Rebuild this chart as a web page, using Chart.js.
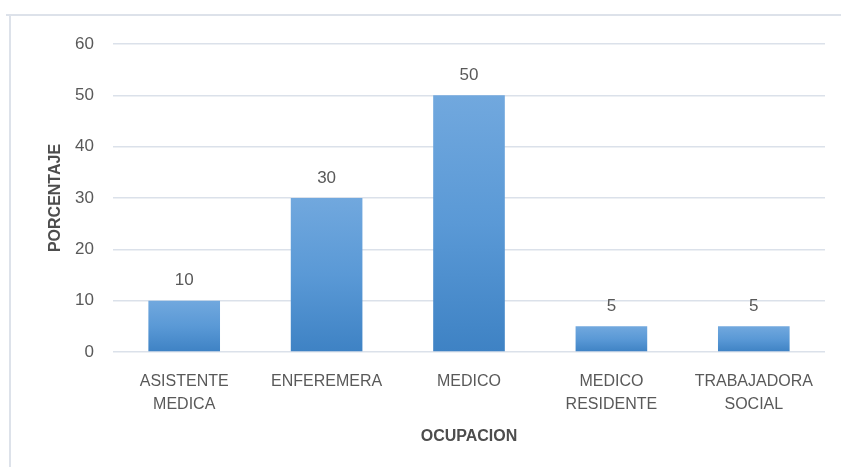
<!DOCTYPE html>
<html>
<head>
<meta charset="utf-8">
<script src="https://cdn.jsdelivr.net/npm/chart.js@4/dist/chart.umd.min.js"></script>
<style>
  html, body { margin: 0; padding: 0; background: #ffffff; }
  #wrap { width: 841px; height: 467px; position: relative; }
</style>
</head>
<body>
<div id="wrap"><canvas id="c"></canvas></div>
<script>
const categories = [['ASISTENTE', 'MEDICA'], 'ENFEREMERA', 'MEDICO', ['MEDICO', 'RESIDENTE'], ['TRABAJADORA', 'SOCIAL']];
const percentages = [10, 30, 50, 5, 5];
const yTicks = [0, 10, 20, 30, 40, 50, 60];
const xTitle = 'OCUPACION';
const yTitle = 'PORCENTAJE';

const FONT = "'Liberation Sans', Arial, sans-serif";
const TEXT = '#595959';

const framePlugin = {
  id: 'frame',
  beforeDraw(chart) {
    const c = chart.ctx;
    c.save();
    c.strokeStyle = '#dde2ea';
    c.lineWidth = 2;
    c.beginPath();
    c.moveTo(6, 15);
    c.lineTo(chart.width, 15);
    c.moveTo(10, 15);
    c.lineTo(10, chart.height);
    c.stroke();
    c.restore();
  }
};

const valueLabels = {
  id: 'valueLabels',
  afterDatasetsDraw(chart) {
    const c = chart.ctx;
    const meta = chart.getDatasetMeta(0);
    c.save();
    c.font = '17px ' + FONT;
    c.fillStyle = TEXT;
    c.textAlign = 'center';
    c.textBaseline = 'middle';
    meta.data.forEach((el, i) => {
      c.fillText(String(percentages[i]), el.x, el.y - 20);
    });
    c.restore();
  }
};

function barGradient(ctx) {
  const chart = ctx.chart;
  if (!chart.chartArea || !chart.scales.y) return '#5b9bd5';
  const y = chart.scales.y;
  const top = y.getPixelForValue(ctx.raw);
  const base = y.getPixelForValue(0);
  const g = chart.ctx.createLinearGradient(0, top, 0, base);
  g.addColorStop(0, '#71a8de');
  g.addColorStop(0.5, '#5a99d6');
  g.addColorStop(1, '#3e82c4');
  return g;
}

new Chart(document.getElementById('c'), {
  type: 'bar',
  data: {
    labels: categories,
    datasets: [{
      data: percentages,
      backgroundColor: barGradient,
      borderWidth: 0,
      barPercentage: 0.503,
      categoryPercentage: 1.0
    }]
  },
  options: {
    responsive: true,
    maintainAspectRatio: false,
    animation: false,
    devicePixelRatio: 1,
    layout: { padding: { top: 44, right: 16, bottom: 0, left: 0 } },
    plugins: {
      legend: { display: false },
      tooltip: { enabled: false }
    },
    scales: {
      x: {
        grid: { display: false },
        border: { display: false },
        ticks: {
          color: TEXT,
          font: { family: FONT, size: 16, lineHeight: 1.45 },
          padding: 10,
          maxRotation: 0,
          autoSkip: false
        },
        title: {
          display: true,
          text: xTitle,
          color: '#4d4d4d',
          font: { family: FONT, size: 16, weight: 'bold', lineHeight: 1.2 },
          padding: { top: 0, bottom: 21 }
        },
        afterFit(scale) { scale.height = 115; }
      },
      y: {
        min: 0,
        max: 60,
        afterBuildTicks(scale) { scale.ticks = yTicks.map(v => ({ value: v })); },
        grid: { color: '#dbe1ea', lineWidth: 1.5, drawTicks: false },
        border: { display: false },
        ticks: {
          color: TEXT,
          font: { family: FONT, size: 17 },
          padding: 19
        },
        title: {
          display: true,
          text: yTitle,
          color: '#4d4d4d',
          font: { family: FONT, size: 16, weight: 'bold', lineHeight: 1.2 },
          padding: { top: 46, bottom: 0 }
        },
        afterFit(scale) { scale.width = 113; }
      }
    }
  },
  plugins: [framePlugin, valueLabels]
});
</script>
</body>
</html>
